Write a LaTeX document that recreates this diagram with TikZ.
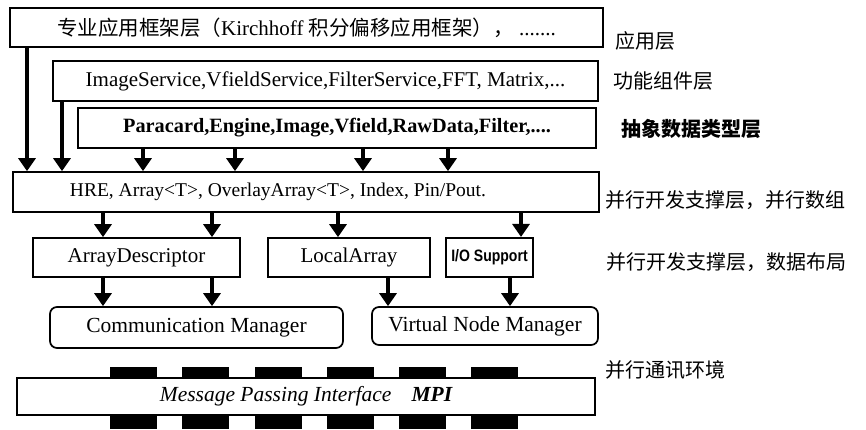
\documentclass[tikz,border=0pt]{standalone}
\usepackage{fontspec}
\setmainfont{Liberation Serif}
\newfontfamily\cjk{Noto Sans CJK SC}
\newfontfamily\sansf[FakeStretch=0.85]{Liberation Sans}
\usetikzlibrary{arrows.meta}
\begin{document}
\begin{tikzpicture}[x=1pt,y=-1pt,
  box/.style={draw, line width=1.7pt, inner sep=0pt, font=\fontsize{21}{24}\selectfont},
  rbox/.style={box, rounded corners=7pt},
  arr/.style={line width=3.2pt, -{Triangle[width=17pt,length=13pt]}},
  lab/.style={anchor=west, inner sep=0pt, font=\cjk\fontsize{20}{24}\selectfont},
  blk/.style={fill=black}]
\useasboundingbox (0,0) rectangle (866,429);

% boxes
\node[box, minimum width=593pt, minimum height=39pt] (top) at (306.5,27.5)
  {{\cjk\fontsize{20.5}{24}\selectfont 专业应用框架层（}Kirchhoff {\cjk\fontsize{20.5}{24}\selectfont 积分偏移应用框架），} .......};
\node[box, minimum width=545pt, minimum height=40pt] (svc) at (325.5,81)
  {ImageService,VfieldService,FilterService,FFT, Matrix,...};
\node[box, line width=2.3pt, minimum width=518pt, minimum height=40pt] (adt) at (337,128)
  {\bfseries\fontsize{20.3}{24}\selectfont Paracard,Engine,Image,Vfield,RawData,Filter,....};
\node[box, minimum width=586pt, minimum height=40pt] (hre) at (306,192) {};
\node[inner sep=0pt, font=\fontsize{19.5}{24}\selectfont] (hret) at (278,192)
  {HRE, Array<T>, OverlayArray<T>, Index, Pin/Pout.};
\node[box, minimum width=207pt, minimum height=39pt] (ad) at (136.5,257.5) {ArrayDescriptor};
\node[box, minimum width=162pt, minimum height=39pt] (la) at (349,257.5) {LocalArray};
\node[box, line width=2.1pt, minimum width=87pt, minimum height=39pt] (io) at (489.5,257.5)
  {\sansf\bfseries\fontsize{16.5}{18}\selectfont I/O Support};
\node[rbox, font=\fontsize{21.5}{24}\selectfont, minimum width=293pt, minimum height=41pt] (cm) at (196.5,327.5) {Communication Manager};
\node[rbox, font=\fontsize{21.5}{24}\selectfont, minimum width=226pt, minimum height=38pt] (vnm) at (485,326) {Virtual Node Manager};
\node[box, font=\fontsize{21.5}{24}\selectfont, minimum width=578pt, minimum height=37pt] (mpi) at (306,396.5)
  {\itshape Message Passing Interface\hspace{20pt}\textbf{MPI}};

% layer labels
\node[lab] (l1) at (615,41) {应用层};
\node[lab] (l2) at (613,81) {功能组件层};
\node[lab, font=\cjk\bfseries\fontsize{20}{24}\selectfont] (l3) at (621,129) {抽象数据类型层};
\node[lab] (l4) at (605,200) {并行开发支撑层，并行数组};
\node[lab] (l5) at (606,262) {并行开发支撑层，数据布局};
\node[lab] (l6) at (605,370) {并行通讯环境};

% arrow x positions
\foreach \n/\x in {a1/27,a2/62,a3/143,a4/235,a5/363,a6/448,
                   b1/103,b2/212,b3/338,b4/521,
                   c3/388,c4/510}
  \coordinate (\n) at (\x,0);

\draw[arr] (top.south -| a1) -- (hre.north -| a1);
\draw[arr] (svc.south -| a2) -- (hre.north -| a2);
\foreach \c in {a3,a4,a5,a6} \draw[arr] (adt.south -| \c) -- (hre.north -| \c);
\draw[arr] (hre.south -| b1) -- (ad.north -| b1);
\draw[arr] (hre.south -| b2) -- (ad.north -| b2);
\draw[arr] (hre.south -| b3) -- (la.north -| b3);
\draw[arr] (hre.south -| b4) -- (io.north -| b4);
\draw[arr] (ad.south -| b1) -- (cm.north -| b1);
\draw[arr] (ad.south -| b2) -- (cm.north -| b2);
\draw[arr] (la.south -| c3) -- (vnm.north -| c3);
\draw[arr] (io.south -| c4) -- (vnm.north -| c4);

% black connector blocks of MPI
\foreach \x in {110,182,255,327,399,471} {
  \fill[blk] (\x,366.5) rectangle ++(47,11.5);
  \fill[blk] (\x,415) rectangle ++(47,14);
}
\end{tikzpicture}
\end{document}
